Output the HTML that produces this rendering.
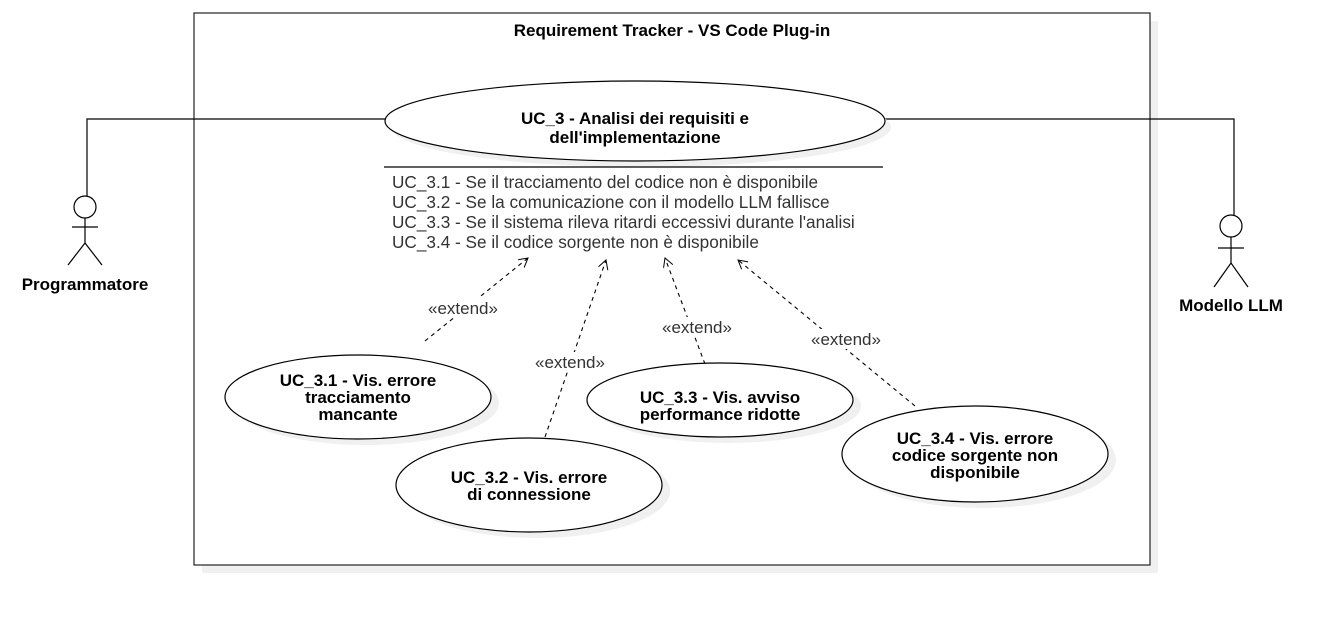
<!DOCTYPE html>
<html><head><meta charset="utf-8"><style>
html,body{margin:0;padding:0;background:#fff;}
svg{display:block;}
text{font-family:"Liberation Sans",Arial,sans-serif;}
.b{font-weight:bold;font-size:17px;fill:#000;}
.t{font-size:17.2px;fill:#333;}
.e{font-size:17px;fill:#333;}
</style></head><body>
<svg width="1344" height="618" viewBox="0 0 1344 618" xmlns="http://www.w3.org/2000/svg">
<defs>
<marker id="ar" markerWidth="12" markerHeight="12" refX="10" refY="5" orient="auto" markerUnits="userSpaceOnUse">
<path d="M1,0 L10,5 L1,10" fill="none" stroke="#000" stroke-width="1"/>
</marker>
</defs>
<rect x="202" y="21" width="956" height="552" fill="#f0f0f0"/>
<rect x="194" y="13" width="956" height="552" fill="#fff" stroke="#333" stroke-width="1.3"/>
<text x="672" y="36" text-anchor="middle" class="b">Requirement Tracker - VS Code Plug-in</text>

<polyline points="87,196 87,119 385,119" fill="none" stroke="#000" stroke-width="1.2"/>
<polyline points="885,119 1234,119 1234,215" fill="none" stroke="#000" stroke-width="1.2"/>

<ellipse cx="641" cy="127" rx="250" ry="40" fill="#f0f0f0"/>
<ellipse cx="635" cy="121" rx="250" ry="40" fill="#fff" stroke="#000" stroke-width="1.2"/>
<text x="635" y="124" text-anchor="middle" class="b">UC_3 - Analisi dei requisiti e</text>
<text x="635" y="143" text-anchor="middle" class="b">dell'implementazione</text>
<line x1="384" y1="167" x2="883" y2="167" stroke="#000" stroke-width="1.2"/>
<text x="392" y="188" class="t">UC_3.1 - Se il tracciamento del codice non è disponibile</text>
<text x="392" y="208" class="t">UC_3.2 - Se la comunicazione con il modello LLM fallisce</text>
<text x="392" y="228" class="t">UC_3.3 - Se il sistema rileva ritardi eccessivi durante l'analisi</text>
<text x="392" y="248" class="t">UC_3.4 - Se il codice sorgente non è disponibile</text>

<g fill="none" stroke="#000" stroke-width="1.2">
<circle cx="85" cy="207" r="11" fill="#fff"/>
<line x1="85" y1="218" x2="85" y2="243"/>
<line x1="72" y1="227" x2="98" y2="227"/>
<polyline points="68,265 85,243 102,265"/>
<circle cx="1231" cy="226" r="11" fill="#fff"/>
<line x1="1231" y1="237" x2="1231" y2="263"/>
<line x1="1218" y1="248" x2="1244" y2="248"/>
<polyline points="1214,287 1231,263 1248,287"/>
</g>
<text x="85" y="290" text-anchor="middle" class="b">Programmatore</text>
<text x="1231" y="311" text-anchor="middle" class="b">Modello LLM</text>

<g stroke="#000" stroke-width="1.1" stroke-dasharray="4,4" fill="none" marker-end="url(#ar)">
<line x1="425" y1="341" x2="528" y2="258"/>
<line x1="545" y1="437" x2="606" y2="260"/>
<line x1="705" y1="364" x2="665" y2="258"/>
<line x1="915" y1="406" x2="738" y2="260"/>
</g>
<rect x="425" y="298" width="76" height="20" fill="#fff"/>
<text x="463" y="314" text-anchor="middle" class="e">«extend»</text>
<rect x="532" y="352" width="76" height="20" fill="#fff"/>
<text x="570" y="368" text-anchor="middle" class="e">«extend»</text>
<rect x="659" y="317" width="76" height="20" fill="#fff"/>
<text x="697" y="333" text-anchor="middle" class="e">«extend»</text>
<rect x="808" y="329" width="76" height="20" fill="#fff"/>
<text x="846" y="345" text-anchor="middle" class="e">«extend»</text>

<ellipse cx="366" cy="403" rx="133" ry="42" fill="#f0f0f0"/>
<ellipse cx="358" cy="397" rx="133" ry="42" fill="#fff" stroke="#000" stroke-width="1.2"/>
<text x="358" y="386" text-anchor="middle" class="b">UC_3.1 - Vis. errore</text>
<text x="358" y="403" text-anchor="middle" class="b">tracciamento</text>
<text x="358" y="420" text-anchor="middle" class="b">mancante</text>

<ellipse cx="728" cy="406" rx="133" ry="37" fill="#f0f0f0"/>
<ellipse cx="720" cy="400" rx="133" ry="37" fill="#fff" stroke="#000" stroke-width="1.2"/>
<text x="720" y="403" text-anchor="middle" class="b">UC_3.3 - Vis. avviso</text>
<text x="720" y="420" text-anchor="middle" class="b">performance ridotte</text>

<ellipse cx="537" cy="491" rx="133" ry="47" fill="#f0f0f0"/>
<ellipse cx="529" cy="485" rx="133" ry="47" fill="#fff" stroke="#000" stroke-width="1.2"/>
<text x="529" y="483" text-anchor="middle" class="b">UC_3.2 - Vis. errore</text>
<text x="529" y="500" text-anchor="middle" class="b">di connessione</text>

<ellipse cx="983" cy="460" rx="133" ry="48" fill="#f0f0f0"/>
<ellipse cx="975" cy="454" rx="133" ry="48" fill="#fff" stroke="#000" stroke-width="1.2"/>
<text x="975" y="444" text-anchor="middle" class="b">UC_3.4 - Vis. errore</text>
<text x="975" y="461" text-anchor="middle" class="b">codice sorgente non</text>
<text x="975" y="478" text-anchor="middle" class="b">disponibile</text>
</svg>
</body></html>
